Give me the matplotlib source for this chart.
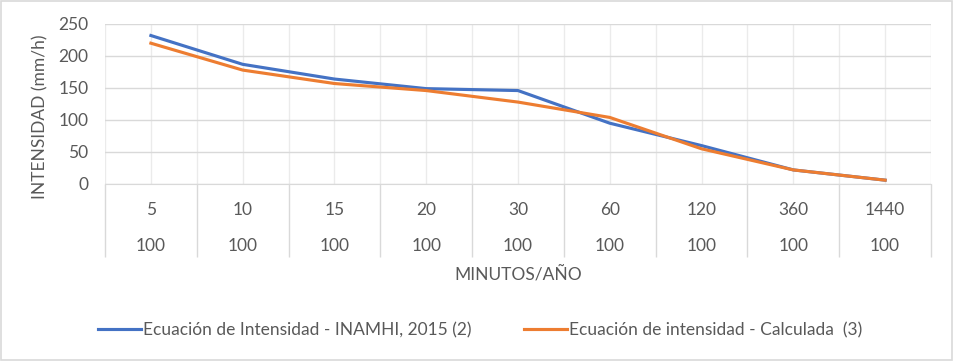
import numpy as np
import matplotlib.pyplot as plt
from matplotlib.patches import Rectangle

# datos
minutos = ['5', '10', '15', '20', '30', '60', '120', '360', '1440']
anios = ['100', '100', '100', '100', '100', '100', '100', '100', '100']
inamhi = [232, 187, 164, 149, 146, 95, 60, 22, 6]
calculada = [220, 178, 157, 146, 128, 104, 55, 22, 6]

plt.rcParams['font.family'] = ['Lato', 'DejaVu Sans']
gris = '#595959'
fs = 12.5

fig = plt.figure(figsize=(9.54, 3.61), dpi=100)
ax = fig.add_axes([105/954, 1-184/361, 826/954, 160/361])

x = np.arange(len(minutos))
ax.plot(x, inamhi, color='#4472C4', lw=2.25, solid_joinstyle='round',
        label='Ecuación de Intensidad - INAMHI, 2015 (2)')
ax.plot(x, calculada, color='#ED7D31', lw=2.25, solid_joinstyle='round',
        label='Ecuación de intensidad - Calculada  (3)')

ax.set_xlim(-0.5, len(minutos)-0.5)
ax.set_ylim(0, 250)
ax.set_yticks(np.arange(0, 251, 50))
ax.grid(axis='y', color='#d9d9d9', lw=1)
ax.set_axisbelow(True)
for v in np.arange(-0.5, len(minutos), 0.5):
    ax.axvline(v, color='#ebebeb', lw=1, zorder=0)

for s in ['top', 'left', 'right']:
    ax.spines[s].set_visible(False)
ax.spines['bottom'].set_color('#d9d9d9')

# tick largos para la tabla de categorias
ax.set_xticks(np.arange(-0.5, len(minutos), 1))
ax.set_xticklabels([])
ax.tick_params(axis='x', length=52.5, color='#d9d9d9', width=1)
ax.tick_params(axis='y', length=0, pad=12, labelcolor=gris, labelsize=fs)

for i in range(len(minutos)):
    ax.annotate(minutos[i], xy=(x[i], 0), xycoords=('data', 'axes fraction'),
                xytext=(0, -26), textcoords='offset pixels',
                ha='center', va='center', color=gris, fontsize=fs)
    ax.annotate(anios[i], xy=(x[i], 0), xycoords=('data', 'axes fraction'),
                xytext=(0, -62), textcoords='offset pixels',
                ha='center', va='center', color=gris, fontsize=fs)

fig.text(518/954, 1-274/361, 'MINUTOS/AÑO', ha='center', va='center',
         color=gris, fontsize=fs)
fig.text(40/954, 1-117/361, 'INTENSIDAD (mm/h)', rotation=90, ha='center',
         va='center', color=gris, fontsize=fs)

fig.legend(loc='center', bbox_to_anchor=(480/954, 1-330/361), ncol=2,
           frameon=False, fontsize=fs, labelcolor=gris, handlelength=2.5,
           handletextpad=0.12, columnspacing=3.0)

fig.patches.append(Rectangle((0.001, 0.002), 0.997, 0.995, transform=fig.transFigure,
                             fill=False, edgecolor='#d9d9d9', lw=1.2))

fig.savefig('out.png', dpi=100)
